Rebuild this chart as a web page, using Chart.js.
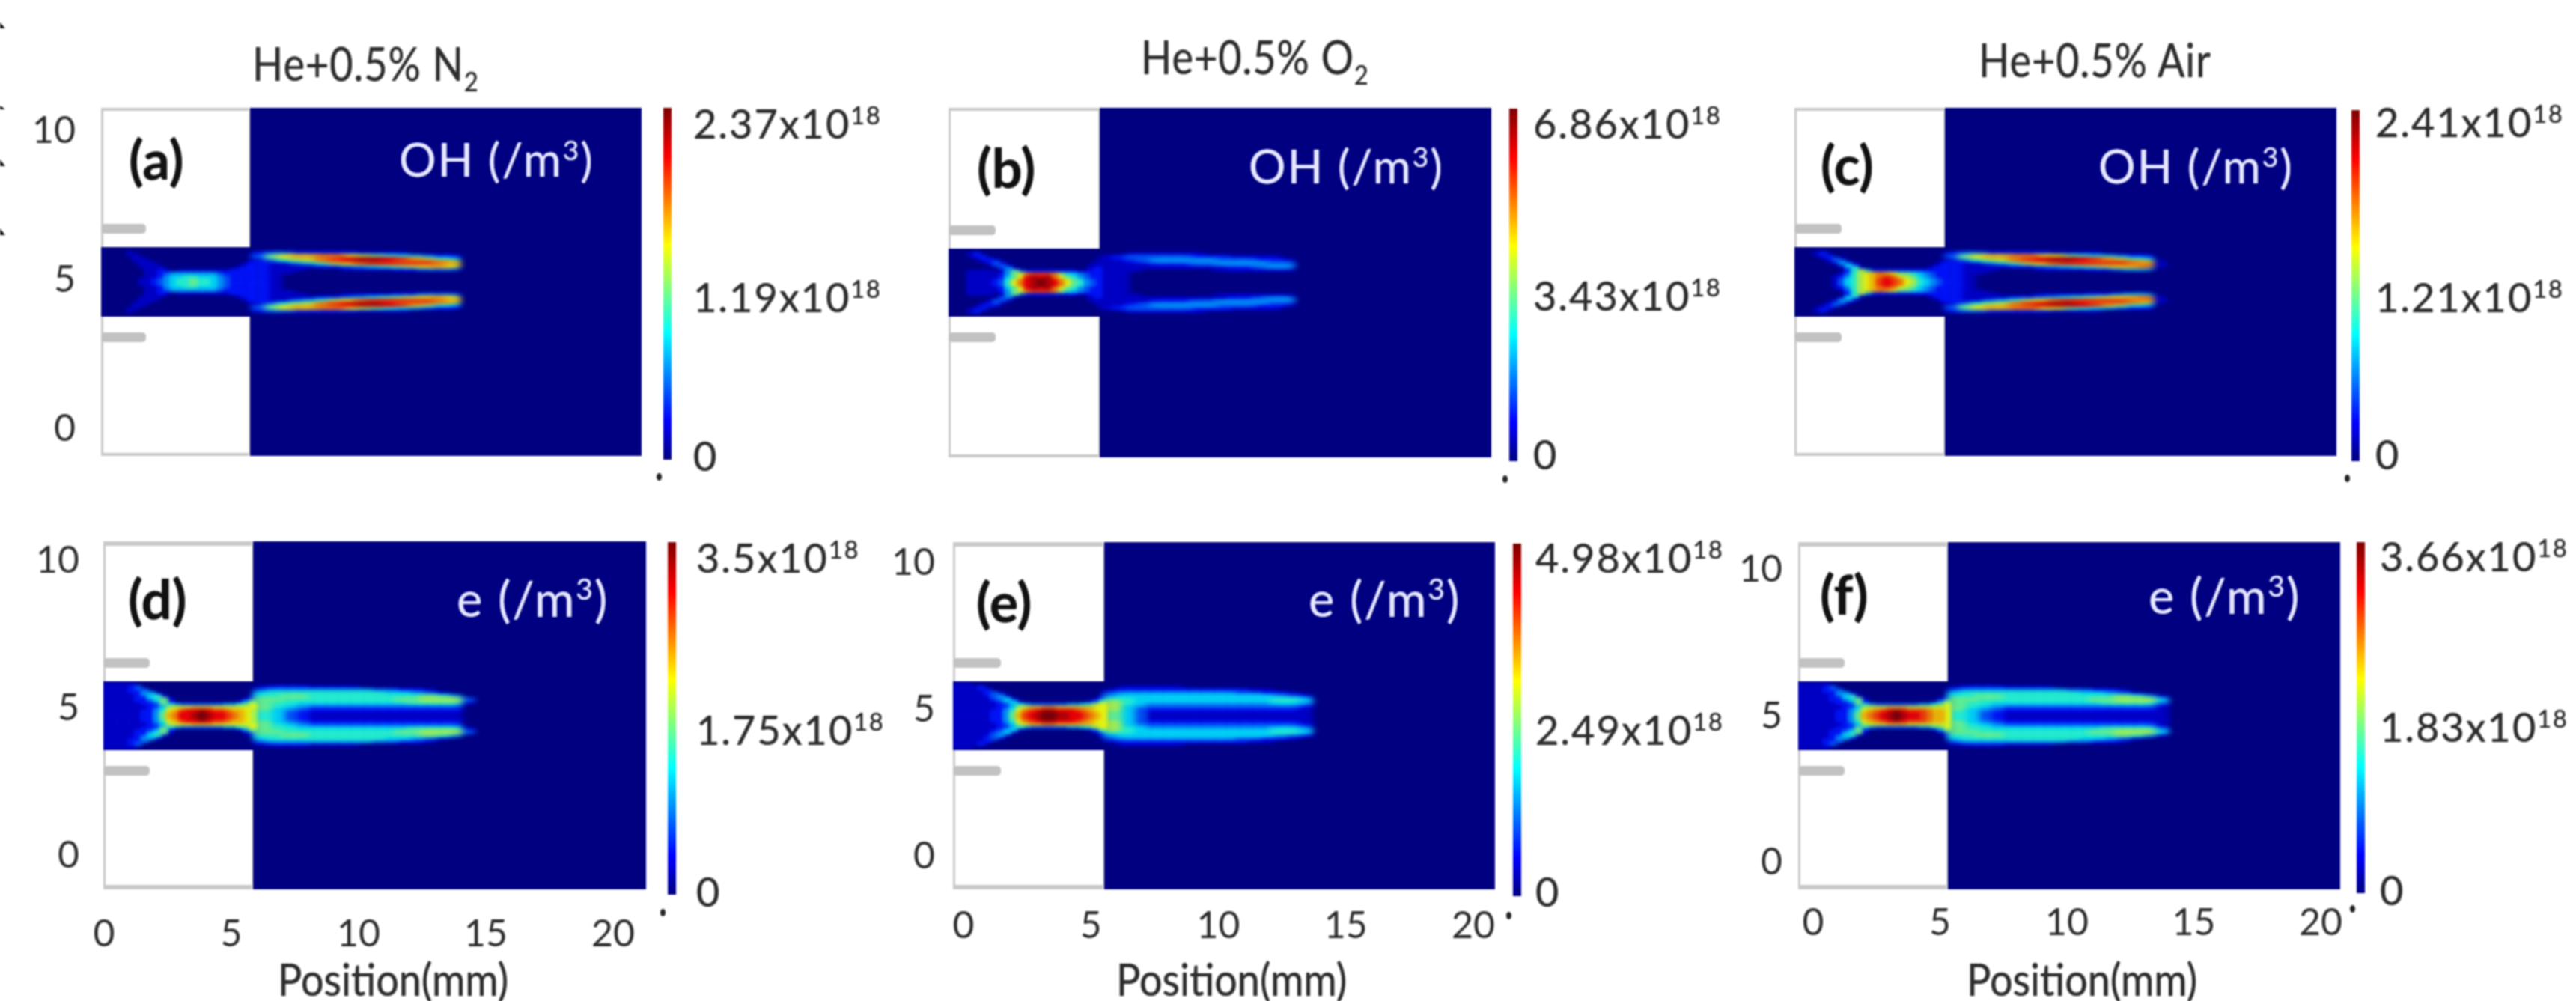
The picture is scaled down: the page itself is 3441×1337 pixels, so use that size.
<!DOCTYPE html>
<html>
<head>
<meta charset="utf-8">
<title>OH and electron density maps</title>
<script src="https://cdn.jsdelivr.net/npm/chart.js@4/dist/chart.umd.js"></script>
<style>
    html, body { margin: 0; padding: 0; background: #fff; overflow: hidden; }
    #page { position: absolute; left: 0; top: 0; width: 3441px; height: 1337px; filter: blur(1px); font-family: Lato, sans-serif; color: #2c2c2c; }
    #page canvas { position: absolute; }
    .t { position: absolute; white-space: nowrap; line-height: 1; transform: translateY(-50%); text-shadow: 0 0 1px currentColor; }
    .t sup, .t sub { line-height: 0; font-size: 0.6em; }
    .dot { position: absolute; width: 7px; height: 10px; border-radius: 50%; background: #222; }
    .nick { position: absolute; left: 0; width: 7px; background: #111; }
</style>
</head>
<body>
<div id="page"></div>
<script>
//---------------------------------------------------------------
// VALUES
//---------------------------------------------------------------
const xTicks = [0, 5, 10, 15, 20];
const yTicks = [0, 5, 10];

const colorbarMax = [2.37, 6.86, 2.41, 3.5, 4.98, 3.66];
const colorbarMid = [1.19, 3.43, 1.21, 1.75, 2.49, 1.83];

const gasTitles = ['He+0.5% N<sub>2</sub>', 'He+0.5% O<sub>2</sub>', 'He+0.5% Air'];
const panelLetters = ['(a)', '(b)', '(c)', '(d)', '(e)', '(f)'];
const speciesLabels = ['OH (/m<sup>3</sup>)', 'OH (/m<sup>3</sup>)', 'OH (/m<sup>3</sup>)', 'e (/m<sup>3</sup>)', 'e (/m<sup>3</sup>)', 'e (/m<sup>3</sup>)'];

// cell centres and widths in mm from the inlet, 24 columns in the tube then 17 in the plume
const colX = [0.125, 0.375, 0.625, 0.875, 1.125, 1.375, 1.625, 1.875, 2.125, 2.375, 2.625, 2.875,
    3.125, 3.375, 3.625, 3.875, 4.125, 4.375, 4.625, 4.875, 5.125, 5.375, 5.625, 5.875,
    6.25, 6.75, 7.25, 7.75, 8.25, 8.75, 9.25, 9.75, 10.25, 10.75, 11.25, 11.75, 12.25, 12.75, 13.25, 13.75, 14.25];
const colW = [0.25, 0.25, 0.25, 0.25, 0.25, 0.25, 0.25, 0.25, 0.25, 0.25, 0.25, 0.25,
    0.25, 0.25, 0.25, 0.25, 0.25, 0.25, 0.25, 0.25, 0.25, 0.25, 0.25, 0.25,
    0.5, 0.5, 0.5, 0.5, 0.5, 0.5, 0.5, 0.5, 0.5, 0.5, 0.5, 0.5, 0.5, 0.5, 0.5, 0.5, 0.5];

// distance from the jet axis in mm, the maps are symmetric so only the upper half is listed
const rowDy = [1.15, 1.05, 0.95, 0.85, 0.75, 0.65, 0.55, 0.45, 0.35, 0.25, 0.15, 0.05];

// one hex digit per cell, 0 = bottom of the colour bar, f = top
const fieldA = [
    "000000000000 000000000000 00000000000000000",
    "000000000000 000000000000 00000000000000000",
    "000010000000 000000000000 23322222111100000",
    "000001000000 000000000000 379aabb9876543220",
    "000001100000 000000000000 13578bcdeedca8650",
    "000000110000 000000000001 21134689bcccccba0",
    "000000111000 000000000012 21111223456789a90",
    "000000011100 000000000122 21110001111223330",
    "000000011210 111111112222 21100000000000000",
    "000000011234 444444322222 21000000000000000",
    "000000011245 566555432222 21000000000000000",
    "000000112345 667665432222 21000000000000000"
];
const fieldB = [
    "000000000000 000000000000 00000000000000000",
    "000000000000 000000000000 00000000000000000",
    "000120000000 000000000000 00111111000000000",
    "000012000000 000000000000 12333332221111000",
    "000001210000 000000000000 11234444433322100",
    "000000131000 000000000001 11112223344443300",
    "000000013100 000000000011 11111111112234400",
    "000000001410 000000000012 11100000011111100",
    "000111101473 222222221122 11000000000000000",
    "000111112479 bcccb8654322 11000000000000000",
    "000111112569 dedeb9764322 11000000000000000",
    "00011112369b defedb976432 11000000000000000"
];
const fieldC = [
    "000000000000 000000000000 00000000000000000",
    "000000000000 000000000000 00000000000000000",
    "000120000000 000000000000 23322222111100000",
    "000012000000 000000000000 379aabb9976543220",
    "000001310000 000000000000 13578bcdeedca8650",
    "000000141000 000000000001 21134689bcccccba1",
    "000000015200 000000000012 21111223456789ab1",
    "000000002610 000000000122 21110001111223440",
    "000000002584 222222222222 21100000000000000",
    "000000013689 aba977654322 21000000000000000",
    "000000124689 abcb98754322 21000000000000000",
    "000000135689 acdcb9865432 21000000000000000"
];
const fieldD = [
    "000000000000 000000000000 00000000000000000",
    "111110000000 000000000000 00000000000000000",
    "111123000000 000000000000 12221111000000000",
    "111122300000 000000000000 34444444433221000",
    "111112441000 000000000000 56666666665543100",
    "111112256100 000000000001 66776666666667640",
    "111112235710 000000000012 77666666666778883",
    "111111223720 000000000147 76655555555566661",
    "111111122464 333333344679 76543333333333330",
    "111111123589 99aaa9999998 75432222222222220",
    "11111122469a cddedccbaa98 65321111111111110",
    "1111112247ab ddefeddcba98 65321111111111110"
];
const fieldE = [
    "000000000000 000000000000 00000000000000000",
    "111000000000 000000000000 00000000000000000",
    "111120000000 000000000000 01111100000000000",
    "111112000000 000000000000 12222222222110000",
    "111112310000 000000000000 34444444443322100",
    "111111341000 000000000001 45555555555554320",
    "111111235100 000000000012 66555555555556650",
    "111111123510 000000000136 86544444444445540",
    "111111122464 333333445689 85433333333333320",
    "111111123589 aabbaaaaaa99 85322222222222210",
    "11111122469b cdeedddcba99 75311111111111110",
    "1111112247ac deffeeddcba9 75311111111111110"
];
const fieldF = [
    "000000000000 000000000000 00000000000000000",
    "111110000000 000000000000 00000000000000000",
    "111123000000 000000000000 12221111000000000",
    "111122300000 000000000000 34444444433221000",
    "111112441000 000000000000 56666666665543100",
    "111112256100 000000000001 66776666666667641",
    "111112235710 000000000012 77666666666778885",
    "111111223720 000000000147 76655555555566663",
    "111111122464 333333344679 76543333333333331",
    "111111123589 99aaa9999998 75432222222222221",
    "11111122469a bcdedcccbaa9 65321111111111111",
    "1111112247ab cdefeddcbaa9 65321111111111111"
];
const fields = [fieldA, fieldB, fieldC, fieldD, fieldE, fieldF];

//---------------------------------------------------------------
// PAGE LAYOUT, IN PIXELS OF THE 3441x1337 PICTURE
//---------------------------------------------------------------
const panels = [
    { left: 135, right: 857, top: 144, bottom: 609, wall: 334, chanTop: 330, chanBot: 423, tabEnd: 195, x0: 139, kx: 34, y0: 573, ky: 39.8, showX: false, showY: true, yPad: 34, xPad: 0 },
    { left: 1267, right: 1992, top: 144, bottom: 611, wall: 1469, chanTop: 332, chanBot: 423, tabEnd: 1330, x0: 1271, kx: 34, y0: 573, ky: 39.8, showX: false, showY: false, yPad: 0, xPad: 0 },
    { left: 2397, right: 3121, top: 144, bottom: 609, wall: 2598, chanTop: 330, chanBot: 423, tabEnd: 2460, x0: 2401, kx: 34, y0: 573, ky: 39.8, showX: false, showY: false, yPad: 0, xPad: 0 },
    { left: 138, right: 863, top: 723, bottom: 1188, wall: 338, chanTop: 910, chanBot: 1002, tabEnd: 200, x0: 139, kx: 34, y0: 1143, ky: 39.4, showX: true, showY: true, yPad: 32, xPad: 30 },
    { left: 1273, right: 1997, top: 724, bottom: 1188, wall: 1475, chanTop: 910, chanBot: 1002, tabEnd: 1337, x0: 1287, kx: 34.05, y0: 1144, ky: 39.2, showX: true, showY: true, yPad: 24, xPad: 19 },
    { left: 2402, right: 3126, top: 724, bottom: 1188, wall: 2602, chanTop: 910, chanBot: 1002, tabEnd: 2464, x0: 2422, kx: 33.9, y0: 1152, ky: 39.1, showX: true, showY: true, yPad: 21, xPad: 15 }
];
const colorbars = [
    { x: 886, top: 144, bottom: 614, dotX: 877, dotY: 632 },
    { x: 2016, top: 145, bottom: 616, dotX: 2007, dotY: 635 },
    { x: 3141, top: 147, bottom: 616, dotX: 3132, dotY: 634 },
    { x: 892, top: 724, bottom: 1195, dotX: 882, dotY: 1214 },
    { x: 2021, top: 726, bottom: 1197, dotX: 2012, dotY: 1218 },
    { x: 3148, top: 724, bottom: 1193, dotX: 3139, dotY: 1209 }
];
const colorbarText = [
    { x: 926, yTop: 165, yMid: 397, yZero: 609 },
    { x: 2048, yTop: 165, yMid: 395, yZero: 607 },
    { x: 3173, yTop: 163, yMid: 397, yZero: 607 },
    { x: 930, yTop: 745, yMid: 975, yZero: 1191 },
    { x: 2051, yTop: 745, yMid: 975, yZero: 1191 },
    { x: 3179, yTop: 743, yMid: 971, yZero: 1189 }
];
const titleSpots = [{ x: 337, y: 85 }, { x: 1524, y: 76 }, { x: 2643, y: 80 }];
const letterSpots = [{ x: 172, y: 212 }, { x: 1305, y: 223 }, { x: 2432, y: 219 }, { x: 171, y: 799 }, { x: 1304, y: 803 }, { x: 2431, y: 793 }];
const speciesSpots = [{ x: 533, y: 212 }, { x: 1668, y: 221 }, { x: 2803, y: 221 }, { x: 610, y: 799 }, { x: 1748, y: 799 }, { x: 2870, y: 795 }];
const axisNameSpots = [{ x: 371, y: 1308 }, { x: 1491, y: 1308 }, { x: 2627, y: 1308 }];
// cut off glyphs along the left edge of the picture
const edgeNicks = [{ y: 30, h: 8 }, { y: 141, h: 5 }, { y: 213, h: 9 }, { y: 305, h: 9 }];

const tickFont = { family: 'Lato', size: 50 };
const navy = 'rgb(0,0,128)';
const wallGrey = '#c9c9c9';

//---------------------------------------------------------------
// COLOUR MAP
//---------------------------------------------------------------
const jetStops = [0, 0.11, 0.36, 0.61, 0.86, 1];
const jetColors = [[0, 0, 128], [0, 0, 255], [0, 255, 255], [255, 255, 0], [255, 0, 0], [128, 0, 0]];

function jet(v) {
    let i = 0;
    while (i < jetStops.length - 2 && v > jetStops[i + 1]) i++;
    let f = (v - jetStops[i]) / (jetStops[i + 1] - jetStops[i]);
    let a = jetColors[i], b = jetColors[i + 1];
    return 'rgb(' + Math.round(a[0] + (b[0] - a[0]) * f) + ',' + Math.round(a[1] + (b[1] - a[1]) * f) + ',' + Math.round(a[2] + (b[2] - a[2]) * f) + ')';
}

// soft edged cell, used as the point style of the map points
// the wide plume cells are blurred at half width and stretched, so their sides fade further
let spriteCache = {};
function cellSprite(level, w, h) {
    let key = level + '_' + Math.round(w) + '_' + Math.round(h);
    if (spriteCache[key]) return spriteCache[key];
    let stretch = w > 12 ? 2 : 1;
    let pad = 10;
    let innerW = Math.round(w / stretch);
    let soft = document.createElement('canvas');
    soft.width = innerW + pad * 2;
    soft.height = Math.round(h) + pad * 2;
    let g = soft.getContext('2d');
    g.filter = 'blur(2.6px)';
    g.fillStyle = jet(level / 15);
    g.fillRect(pad - 1, pad - 1, innerW + 2, Math.round(h) + 2);
    let c = soft;
    if (stretch > 1) {
        c = document.createElement('canvas');
        c.width = soft.width * stretch;
        c.height = soft.height;
        c.getContext('2d').drawImage(soft, 0, 0, c.width, c.height);
    }
    spriteCache[key] = c;
    return c;
}

//---------------------------------------------------------------
// HELPERS
//---------------------------------------------------------------
const page = document.getElementById('page');

function addText(html, x, y, css) {
    let el = document.createElement('div');
    el.className = 't';
    el.innerHTML = html;
    el.style.left = x + 'px';
    el.style.top = y + 'px';
    el.style.cssText += css;
    page.appendChild(el);
}

function addCanvas(left, top, width, height) {
    let c = document.createElement('canvas');
    c.width = width;
    c.height = height;
    c.style.left = left + 'px';
    c.style.top = top + 'px';
    page.appendChild(c);
    return c;
}

function buildCells(field, p, xMin, mid) {
    let cells = [];
    field.forEach((row, r) => {
        let digits = row.replace(/ /g, '');
        for (let c = 0; c < colX.length; c++) {
            let v = parseInt(digits[c], 16);
            if (!v) continue;
            cells.push({ x: xMin + colX[c], y: mid + rowDy[r], v: v, w: colW[c] });
            cells.push({ x: xMin + colX[c], y: mid - rowDy[r], v: v, w: colW[c] });
        }
    });
    // low values first, so the thin hot streaks stay on top
    cells.sort((a, b) => a.v - b.v);
    return cells;
}

// navy domain under the cells, white dielectric and grey outline over them
function domainPlugin(p, geo) {
    return {
        id: 'domain',
        beforeDatasetsDraw(chart) {
            let a = chart.chartArea;
            chart.ctx.fillStyle = navy;
            chart.ctx.fillRect(a.left, a.top, a.right - a.left, a.bottom - a.top);
        },
        afterDatasetsDraw(chart) {
            let ctx = chart.ctx, a = chart.chartArea;
            let sx = chart.scales.x, sy = chart.scales.y;
            let wall = sx.getPixelForValue(geo.wall);
            let chanHi = sy.getPixelForValue(geo.chanHi);
            let chanLo = sy.getPixelForValue(geo.chanLo);
            let tabEnd = sx.getPixelForValue(geo.tabEnd);
            ctx.save();
            ctx.fillStyle = '#fff';
            ctx.fillRect(a.left, a.top, wall - a.left, chanHi - a.top);
            ctx.fillRect(a.left, chanLo, wall - a.left, a.bottom - chanLo);
            ctx.fillStyle = wallGrey;
            let edge = p.showX ? 6 : 4;
            ctx.fillRect(a.left, a.top, wall - a.left, edge);
            ctx.fillRect(a.left, a.bottom - edge, wall - a.left, edge);
            ctx.fillRect(a.left, a.top, 3, chanHi - a.top);
            ctx.fillRect(a.left, chanLo, 3, a.bottom - chanLo);
            ctx.fillStyle = '#d8d8d8';
            ctx.fillRect(wall - 2, a.top, 2, chanHi - a.top);
            ctx.fillRect(wall - 2, chanLo, 2, a.bottom - chanLo);
            // electrode tabs
            [chanHi - 31, chanLo + 21].forEach(y => {
                ctx.fillStyle = '#c2c2c2';
                ctx.beginPath();
                ctx.roundRect(a.left, y, tabEnd - a.left, 13, 5);
                ctx.fill();
            });
            ctx.restore();
        }
    };
}

//---------------------------------------------------------------
// MAP PANELS
//---------------------------------------------------------------
panels.forEach((p, index) => {
    let padTop = 20, padRight = 20, yWidth = 120, xHeight = p.showX ? 100 : 2;
    let canvas = addCanvas(p.left - yWidth, p.top - padTop, p.right - p.left + yWidth + padRight, p.bottom - p.top + padTop + xHeight);

    let xMin = (p.left - p.x0) / p.kx, xMax = (p.right - p.x0) / p.kx;
    let yMin = (p.y0 - p.bottom) / p.ky, yMax = (p.y0 - p.top) / p.ky;
    let chanHi = (p.y0 - p.chanTop) / p.ky, chanLo = (p.y0 - p.chanBot) / p.ky;
    let mid = (chanHi + chanLo) / 2;
    let geo = { wall: (p.wall - p.x0) / p.kx, tabEnd: (p.tabEnd - p.x0) / p.kx, chanHi: chanHi, chanLo: chanLo };

    new Chart(canvas, {
        type: 'scatter',
        data: {
            datasets: [{
                data: buildCells(fields[index], p, xMin, mid),
                showLine: false,
                pointRadius: 1,
                pointStyle: ctx => cellSprite(ctx.raw.v, ctx.raw.w * p.kx, 0.1 * p.ky)
            }]
        },
        options: {
            responsive: false,
            animation: false,
            events: [],
            layout: { autoPadding: false, padding: { top: padTop, right: padRight, left: 0, bottom: 0 } },
            plugins: { legend: { display: false }, tooltip: { enabled: false } },
            scales: {
                x: {
                    type: 'linear', min: xMin, max: xMax,
                    border: { display: false },
                    grid: { display: false, drawTicks: false },
                    afterBuildTicks: s => { s.ticks = xTicks.map(v => ({ value: v })); },
                    afterFit: s => { s.height = xHeight; s.paddingLeft = 0; s.paddingRight = 0; },
                    ticks: { display: p.showX, font: tickFont, color: '#2c2c2c', padding: p.xPad, maxRotation: 0, autoSkip: false }
                },
                y: {
                    type: 'linear', min: yMin, max: yMax,
                    border: { display: false },
                    grid: { display: false, drawTicks: false },
                    afterBuildTicks: s => { s.ticks = yTicks.map(v => ({ value: v })); },
                    afterFit: s => { s.width = yWidth; s.paddingTop = 0; s.paddingBottom = 0; },
                    ticks: { display: p.showY, font: tickFont, color: '#2c2c2c', padding: p.yPad, autoSkip: false }
                }
            }
        },
        plugins: [domainPlugin(p, geo)]
    });

    addText(panelLetters[index], letterSpots[index].x, letterSpots[index].y, 'font-size:72px;font-weight:700;color:#111;');
    let speciesSize = index < 3 ? 62 : 65;
    addText(speciesLabels[index], speciesSpots[index].x, speciesSpots[index].y, 'font-size:' + speciesSize + 'px;color:#e6e8ff;letter-spacing:2px;');
});

//---------------------------------------------------------------
// COLOUR BARS
//---------------------------------------------------------------
colorbars.forEach((b, index) => {
    let canvas = addCanvas(b.x, b.top, 11, b.bottom - b.top);
    new Chart(canvas, {
        type: 'bar',
        data: {
            labels: [''],
            datasets: [{
                data: [colorbarMax[index]],
                barPercentage: 1,
                categoryPercentage: 1,
                backgroundColor: ctx => {
                    let a = ctx.chart.chartArea;
                    if (!a) return navy;
                    let grad = ctx.chart.ctx.createLinearGradient(0, a.bottom, 0, a.top);
                    jetStops.forEach((s, i) => grad.addColorStop(s, 'rgb(' + jetColors[i].join(',') + ')'));
                    return grad;
                }
            }]
        },
        options: {
            responsive: false,
            animation: false,
            events: [],
            plugins: { legend: { display: false }, tooltip: { enabled: false } },
            scales: {
                x: { display: false },
                y: { display: false, min: 0, max: colorbarMax[index] }
            }
        }
    });

    let dot = document.createElement('div');
    dot.className = 'dot';
    dot.style.left = b.dotX + 'px';
    dot.style.top = b.dotY + 'px';
    page.appendChild(dot);

    let t = colorbarText[index];
    let css = 'font-size:54px;letter-spacing:2px;';
    addText(colorbarMax[index] + 'x10<sup>18</sup>', t.x, t.yTop, css);
    addText(colorbarMid[index] + 'x10<sup>18</sup>', t.x, t.yMid, css);
    addText('0', t.x, t.yZero, css);
});

//---------------------------------------------------------------
// TITLES
//---------------------------------------------------------------
gasTitles.forEach((title, i) => addText(title, titleSpots[i].x, titleSpots[i].y, 'font-size:54px;letter-spacing:1px;transform:translateY(-50%) scaleY(1.15);'));
axisNameSpots.forEach(s => addText('Position(mm)', s.x, s.y, 'font-size:54px;transform:translateY(-50%) scaleY(1.12);'));

edgeNicks.forEach(n => {
    let el = document.createElement('div');
    el.className = 'nick';
    el.style.top = n.y + 'px';
    el.style.height = n.h + 'px';
    el.style.clipPath = 'polygon(0 0, 100% 100%, 0 100%)';
    page.appendChild(el);
});
</script>
</body>
</html>
